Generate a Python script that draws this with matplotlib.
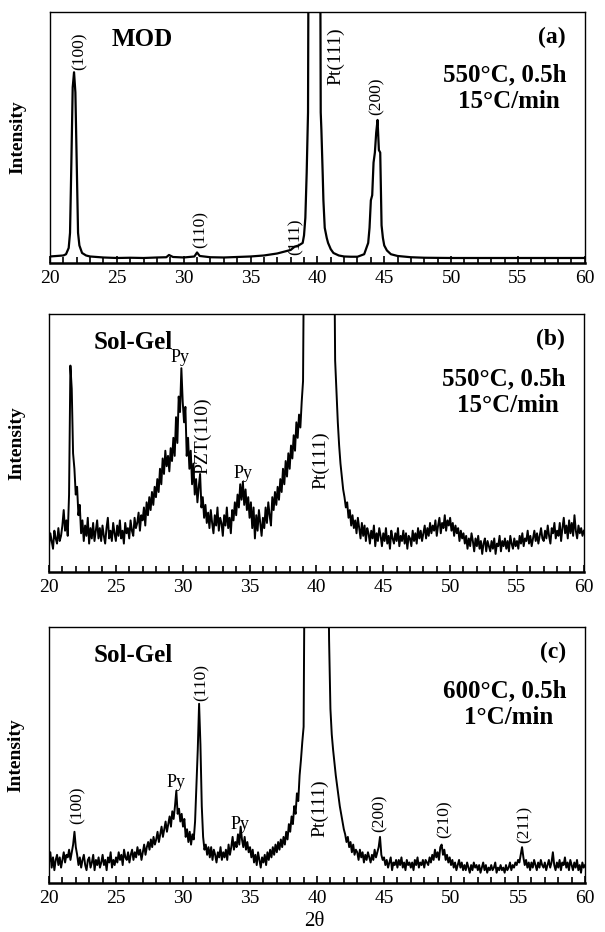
"""
XRD patterns of PZT films: MOD vs Sol-Gel (three stacked panels).
"""

import matplotlib

matplotlib.use("Agg")

import matplotlib.pyplot as plt
import numpy as np
from matplotlib.ticker import MultipleLocator

plt.rcParams["font.family"] = ["Liberation Serif", "DejaVu Serif"]

# ============================================================
# Data (intensity, 0 = baseline axis, 100 = top of panel)
# ============================================================

# (a) MOD, 550°C 0.5h, 15°C/min
MOD_2THETA = [20.0, 20.5, 21.0, 21.2, 21.4, 21.5, 21.6, 21.7, 21.8, 21.9,
              22.0, 22.1, 22.2, 22.4, 22.7, 23.0, 24.0, 25.0, 26.0, 27.0,
              28.0, 28.7, 28.9, 29.2, 30.0, 30.8, 31.0, 31.2, 32.0, 33.0,
              34.0, 35.0, 36.0, 36.5, 37.0, 37.5, 38.0, 38.3, 38.6, 38.9,
              39.0, 39.1, 39.2, 39.3, 39.35, 39.8, 40.2, 40.25, 40.3, 40.4,
              40.45, 40.55, 40.7, 40.8, 41.0, 41.2, 41.6, 42.0, 42.5, 43.0,
              43.5, 43.8, 43.9, 44.0, 44.1, 44.2, 44.3, 44.4, 44.5, 44.6,
              44.7, 44.8, 44.9, 45.0, 45.2, 45.5, 46.0, 47.0, 48.0, 50.0,
              52.0, 54.0, 56.0, 58.0, 60.0]
MOD_INT = [2.6, 2.8, 3.0, 3.5, 6, 12, 40, 70, 76, 68,
           40, 12, 7, 4, 3, 2.6, 2.2, 2.0, 2.1, 2.0,
           2.2, 2.3, 3.2, 2.4, 2.2, 2.6, 4.2, 2.8, 2.3, 2.2,
           2.4, 2.6, 3.0, 3.4, 3.8, 4.5, 5.2, 6.5, 7, 8,
           11, 18, 36, 60, 150, 150, 150, 60, 53, 35,
           25, 14, 10, 8, 5.5, 4, 3, 2.6, 2.5, 2.5,
           3.5, 8, 14, 25, 27, 40, 44, 52, 57, 45,
           44, 15, 10, 7, 5, 3.5, 2.8, 2.3, 2.1, 2.0,
           2.0, 2.0, 2.0, 2.0, 2.0]

# Sol-Gel scans, 0.1° step from 20° to 60°
SCAN_2THETA = np.round(np.arange(20.0, 60.05, 0.1), 1)

# (b) Sol-Gel, 550°C 0.5h, 15°C/min
SOLGEL_550_INT = [
    10, 15, 12, 9, 16, 13, 11, 17, 12, 14,        # 20
    18, 24, 16, 20, 14, 30, 80, 71, 46, 40,       # 21
    30, 33, 22, 26, 15, 20, 12, 18, 14, 21,       # 22
    11, 17, 13, 19, 12, 16, 20, 13, 17, 12,       # 23
    18, 14, 11, 17, 21, 13, 16, 12, 19, 15,       # 24
    12, 18, 14, 20, 13, 16, 11, 19, 15, 17,       # 25
    13, 20, 16, 14, 21, 17, 19, 23, 16, 22,       # 26
    20, 25, 18, 27, 22, 29, 24, 31, 26, 33,       # 27
    29, 36, 31, 40, 34, 44, 38, 47, 41, 45,       # 28
    39, 48, 43, 52, 45, 60, 50, 68, 62, 79,       # 29
    66, 58, 64, 45, 52, 40, 47, 34, 42, 30,       # 30
    36, 27, 33, 38, 25, 29, 21, 26, 19, 23,       # 31
    17, 24, 19, 15, 22, 18, 25, 16, 21, 19,       # 32
    14, 22, 18, 25, 17, 21, 15, 24, 20, 27,       # 33
    22, 30, 25, 34, 28, 35, 26, 32, 24, 29,       # 34
    21, 27, 17, 25, 13, 22, 16, 24, 19, 14,       # 35
    21, 17, 25, 19, 27, 22, 18, 29, 24, 31,       # 36
    26, 33, 28, 36, 31, 40, 34, 43, 37, 46,       # 37
    40, 49, 44, 53, 47, 58, 52, 61, 56, 66,       # 38
    74, 150, 150, 150, 150, 150, 150, 150, 150, 150,  # 39
    150, 150, 150, 150, 150, 150, 150, 150, 150, 150,  # 40
    150, 150, 150, 150, 82, 70, 58, 49, 42, 37,   # 41
    32, 29, 25, 27, 21, 24, 18, 22, 17, 20,       # 42
    15, 21, 17, 13, 19, 14, 18, 12, 17, 15,       # 43
    11, 16, 13, 18, 10, 15, 12, 17, 14, 10,       # 44
    15, 12, 17, 11, 14, 9, 16, 13, 11, 15,        # 45
    12, 17, 10, 14, 12, 16, 11, 15, 9, 14,        # 46
    13, 10, 16, 12, 15, 11, 17, 13, 16, 12,       # 47
    15, 18, 13, 17, 14, 19, 15, 18, 16, 20,       # 48
    14, 18, 21, 15, 19, 17, 22, 16, 20, 18,       # 49
    21, 16, 19, 14, 18, 15, 17, 12, 16, 13,       # 50
    15, 11, 14, 9, 13, 10, 15, 12, 8, 13,         # 51
    10, 14, 9, 12, 7, 11, 13, 8, 12, 10,          # 52
    8, 12, 9, 13, 7, 11, 10, 14, 8, 12,           # 53
    10, 13, 9, 12, 8, 14, 11, 9, 13, 10,          # 54
    12, 9, 14, 11, 15, 10, 13, 12, 16, 11,        # 55
    14, 10, 13, 16, 12, 15, 11, 14, 17, 13,       # 56
    12, 16, 13, 18, 14, 11, 17, 15, 19, 13,       # 57
    16, 14, 19, 12, 17, 21, 15, 18, 13, 20,       # 58
    15, 19, 14, 22, 16, 13, 18, 15, 17, 14,       # 59
    16,                                           # 60
]

# (c) Sol-Gel, 600°C 0.5h, 1°C/min
SOLGEL_600_INT = [
    8, 12, 6, 10, 5, 9, 11, 7, 10, 6,             # 20
    9, 12, 8, 11, 10, 13, 9, 12, 15, 20,          # 21
    14, 11, 7, 10, 6, 9, 11, 7, 5, 9,             # 22
    10, 6, 8, 11, 5, 9, 7, 10, 6, 8,              # 23
    11, 7, 9, 5, 10, 8, 12, 6, 9, 7,              # 24
    10, 8, 12, 9, 11, 7, 13, 10, 9, 12,           # 25
    8, 11, 13, 9, 12, 10, 14, 11, 13, 9,          # 26
    12, 15, 11, 14, 16, 13, 17, 14, 18, 15,       # 27
    17, 20, 16, 19, 22, 18, 21, 24, 20, 23,       # 28
    26, 22, 28, 25, 30, 36, 27, 29, 24, 27,       # 29
    22, 25, 18, 21, 16, 20, 15, 19, 17, 24,       # 30
    38, 52, 70, 54, 30, 18, 13, 15, 11, 14,       # 31
    10, 14, 9, 13, 11, 8, 12, 10, 14, 9,          # 32
    12, 10, 13, 9, 15, 11, 14, 18, 13, 16,        # 33
    14, 19, 15, 22, 17, 14, 18, 13, 16, 12,       # 34
    14, 10, 13, 8, 11, 7, 12, 9, 6, 10,           # 35
    8, 11, 7, 12, 9, 13, 10, 14, 11, 15,          # 36
    12, 16, 13, 17, 14, 18, 15, 20, 17, 23,       # 37
    20, 26, 23, 30, 27, 35, 32, 42, 48, 55,       # 38
    61, 150, 150, 150, 150, 150, 150, 150, 150, 150,  # 39
    150, 150, 150, 150, 150, 150, 150, 150, 150, 95,  # 40
    68, 58, 52, 47, 42, 38, 34, 30, 27, 24,       # 41
    21, 19, 16, 18, 14, 16, 12, 15, 11, 13,       # 42
    12, 9, 13, 10, 12, 8, 11, 9, 12, 10,          # 43
    8, 11, 9, 13, 10, 12, 14, 18, 11, 9,          # 44
    10, 7, 9, 6, 8, 10, 5, 8, 7, 9,               # 45
    6, 9, 7, 10, 6, 8, 5, 9, 7, 8,                # 46
    6, 8, 5, 9, 7, 10, 6, 8, 7, 9,                # 47
    6, 9, 8, 7, 10, 8, 11, 9, 13, 10,             # 48
    12, 9, 14, 15, 11, 13, 9, 11, 8, 10,          # 49
    7, 9, 6, 8, 5, 7, 9, 6, 8, 5,                 # 50
    7, 5, 8, 6, 4, 7, 5, 8, 6, 7,                 # 51
    5, 7, 4, 6, 8, 5, 7, 4, 6, 5,                 # 52
    7, 5, 6, 8, 4, 6, 5, 7, 5, 6,                 # 53
    4, 7, 5, 6, 8, 5, 7, 6, 8, 7,                 # 54
    9, 8, 11, 14, 10, 7, 9, 6, 8, 5,              # 55
    8, 6, 9, 7, 5, 8, 6, 9, 7, 6,                 # 56
    8, 5, 7, 9, 6, 8, 12, 7, 5, 8,                # 57
    6, 9, 5, 8, 7, 10, 6, 8, 5, 9,                # 58
    7, 5, 8, 6, 9, 5, 7, 4, 8, 6,                 # 59
    7,                                            # 60
]

# Peak labels: (text, 2theta, bottom of text, rotated, fontsize)
PEAKS_A = [("(100)", 22.2, 77, True, 12.5), ("(110)", 31.3, 6, True, 12.5),
           ("(111)", 38.4, 3, True, 12.5), ("Pt(111)", 41.35, 71, True, 14),
           ("(200)", 44.4, 59, True, 12.5)]
PEAKS_B = [("Py", 29.8, 80, False, 13), ("PZT(110)", 31.5, 38, True, 14),
           ("Py", 34.5, 35, False, 13), ("Pt(111)", 40.3, 32, True, 14)]
PEAKS_C = [("(100)", 22.1, 23, True, 12.5), ("Py", 29.5, 36, False, 13),
           ("(110)", 31.4, 71, True, 12.5), ("Py", 34.25, 19.5, False, 13),
           ("Pt(111)", 40.2, 18, True, 14), ("(200)", 44.7, 20, True, 12.5),
           ("(210)", 49.5, 17.6, True, 12.5), ("(211)", 55.5, 15.6, True, 12.5)]

METHODS = ["MOD", "Sol-Gel", "Sol-Gel"]
METHOD_X = [24.6, 23.3, 23.3]
TAGS = ["(a)", "(b)", "(c)"]
CONDITIONS = [("550°C, 0.5h", "15°C/min"),
              ("550°C, 0.5h", "15°C/min"),
              ("600°C, 0.5h", "1°C/min")]

# axes rectangles in figure fractions (left, bottom, width, height)
AX_RECTS = [(0.0826, 0.7178, 0.884, 0.2693),
            (0.0810, 0.3863, 0.884, 0.2768),
            (0.0810, 0.0526, 0.886, 0.2747)]


def draw_panel(ax, x, y, peaks, i, lw):
    ax.plot(x, y, color="black", lw=lw)
    ax.set_xlim(20, 60)
    ax.set_ylim(0, 100)
    ax.xaxis.set_major_locator(MultipleLocator(5))
    ax.xaxis.set_minor_locator(MultipleLocator(1))
    ax.tick_params(axis="x", which="both", direction="in", top=False,
                   labelsize=14, pad=5)
    ax.tick_params(axis="x", which="major", length=5, width=1.2)
    ax.tick_params(axis="x", which="minor", length=4, width=1.2)
    ax.set_yticks([])
    for side in ["left", "right", "top"]:
        ax.spines[side].set_linewidth(1.0)
    ax.spines["bottom"].set_linewidth(1.8)

    ax.set_ylabel("Intensity", fontsize=14, fontweight="bold")
    ax.yaxis.set_label_coords(-0.045, 0.5)

    for text, px, py, rot, fs in peaks:
        ax.text(px, py, text, rotation=90 if rot else 0, ha="center",
                va="bottom", fontsize=fs)

    cond = CONDITIONS[i]
    ax.text(METHOD_X[i], 89, METHODS[i], fontsize=18, fontweight="bold",
            va="center")
    ax.text(58.6, 90, TAGS[i], fontsize=17, fontweight="bold", ha="right",
            va="center")
    ax.text(54.0, 75, cond[0], fontsize=18, fontweight="bold", ha="center",
            va="center")
    ax.text(54.3, 64.5, cond[1], fontsize=18, fontweight="bold", ha="center",
            va="center")


def main() -> None:
    fig = plt.figure(figsize=(6.05, 9.32), dpi=100)

    series = [(MOD_2THETA, MOD_INT, PEAKS_A, 1.6),
              (SCAN_2THETA, SOLGEL_550_INT, PEAKS_B, 1.4),
              (SCAN_2THETA, SOLGEL_600_INT, PEAKS_C, 1.4)]
    for i, (x, y, peaks, lw) in enumerate(series):
        ax = fig.add_axes(AX_RECTS[i])
        draw_panel(ax, x, y, peaks, i, lw)

    fig.text(0.52, 1 - 922 / 932, "2θ", fontsize=15, ha="center",
             va="center")

    fig.savefig("out.png", dpi=100)
    plt.close(fig)


if __name__ == "__main__":
    main()
